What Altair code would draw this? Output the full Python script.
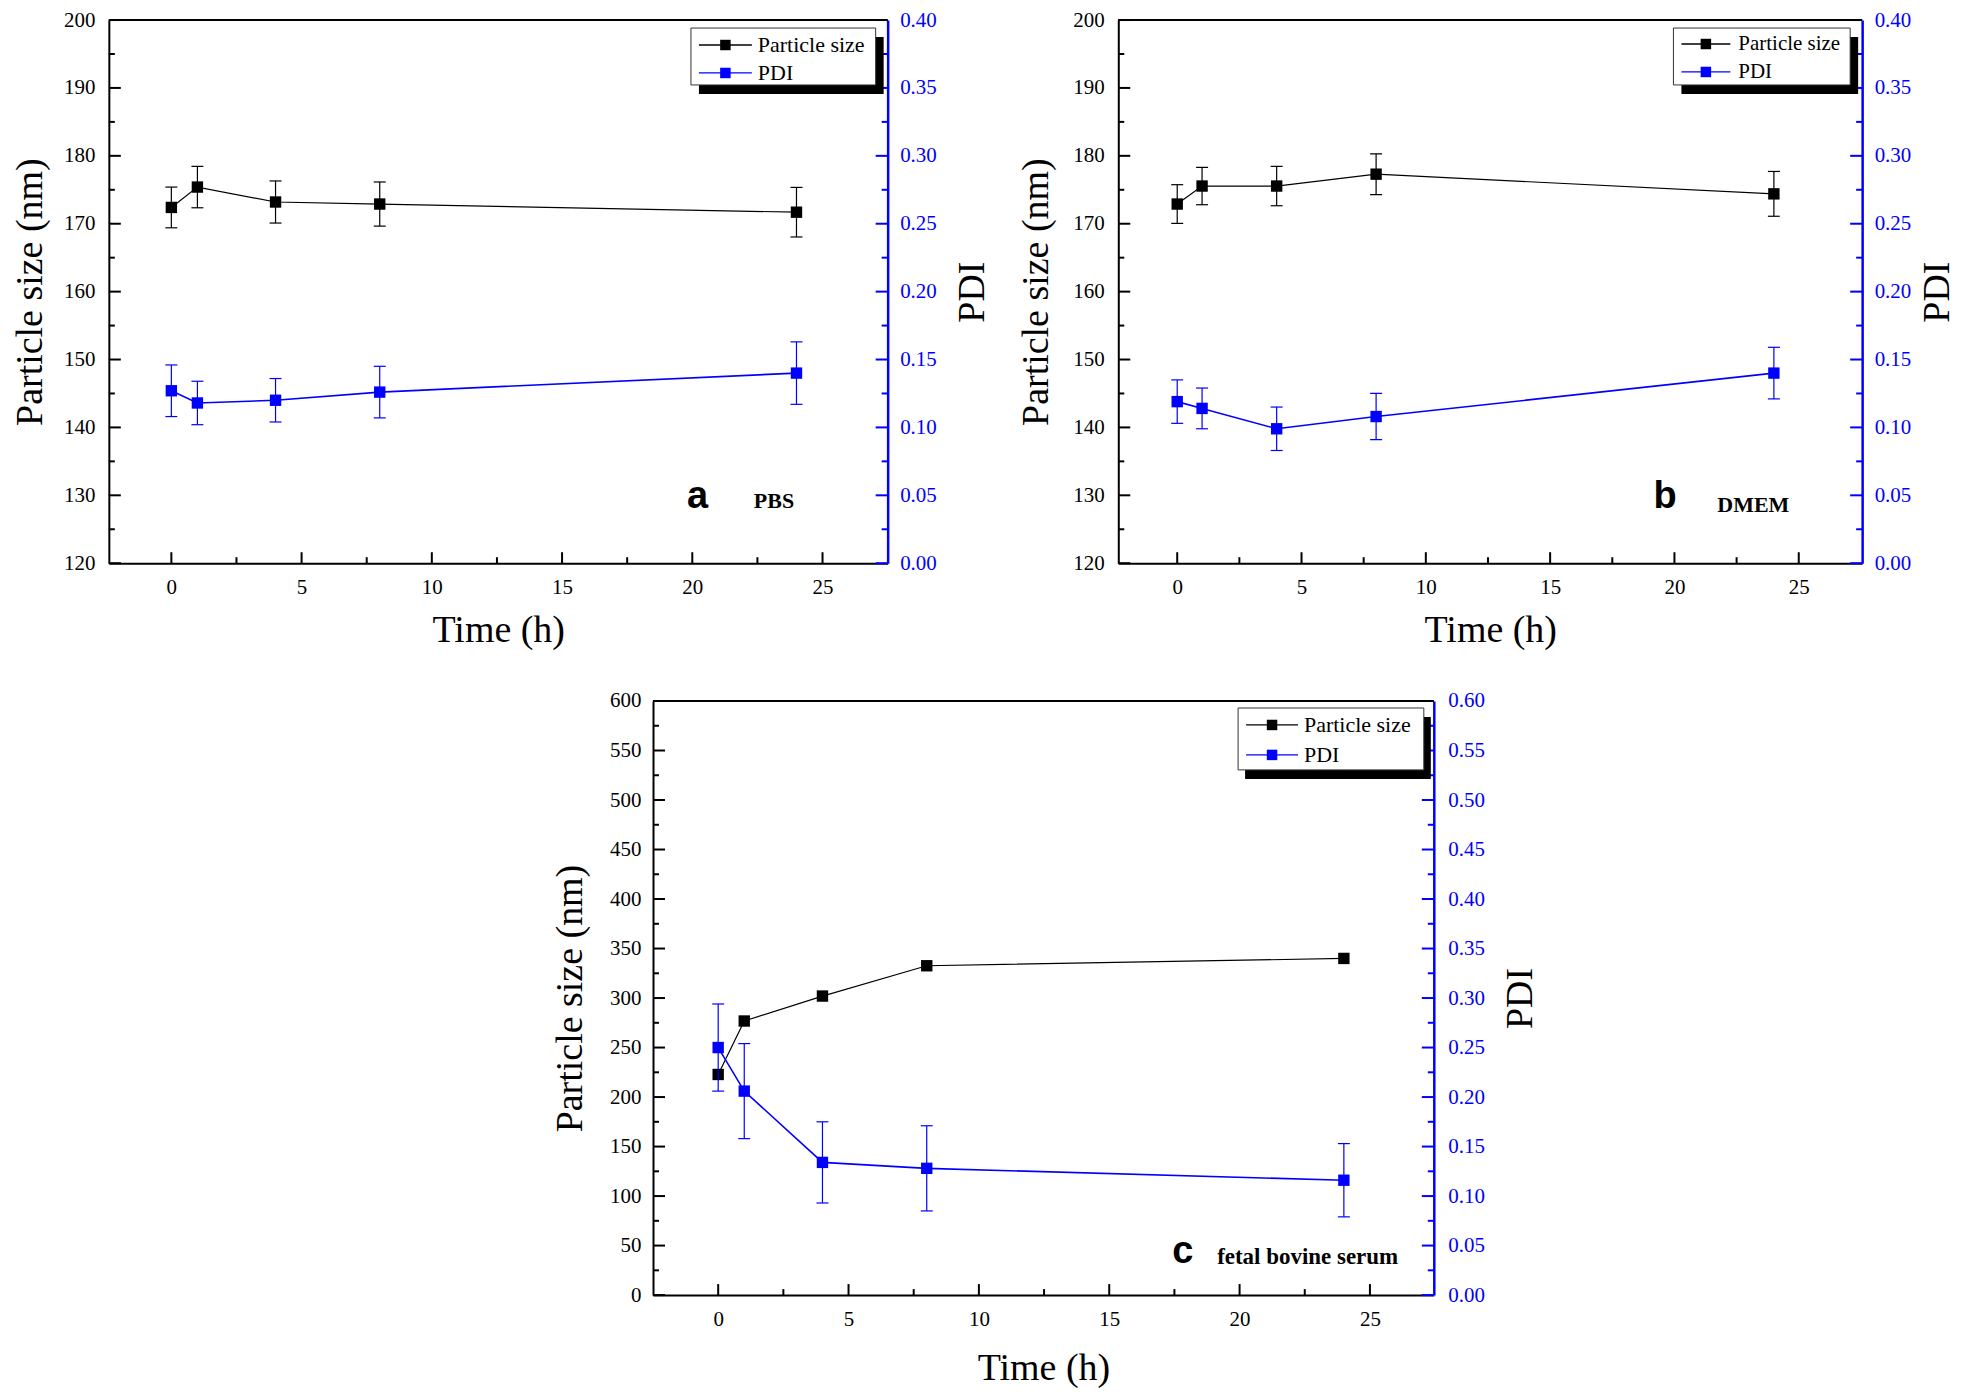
import altair as alt
import pandas as pd

# ---------------- data ----------------
time_h = [0, 1, 4, 8, 24]
x_major = [0, 5, 10, 15, 20, 25]
x_minor = [2.5, 7.5, 12.5, 17.5, 22.5]
legend_labels = ["Particle size", "PDI"]

size_a = [172.4, 175.4, 173.2, 172.9, 171.7]
size_a_err = [3.0, 3.05, 3.1, 3.25, 3.65]
pdi_a = [0.127, 0.118, 0.120, 0.126, 0.140]
pdi_a_err = [0.019, 0.016, 0.016, 0.019, 0.023]

size_b = [172.9, 175.55, 175.55, 177.3, 174.4]
size_b_err = [2.85, 2.75, 2.9, 3.0, 3.3]
pdi_b = [0.119, 0.114, 0.099, 0.108, 0.140]
pdi_b_err = [0.016, 0.015, 0.016, 0.017, 0.019]

size_c = [222.8, 276.8, 302.0, 332.6, 340.0]
pdi_c = [0.250, 0.206, 0.134, 0.128, 0.116]
pdi_c_err = [0.044, 0.048, 0.041, 0.043, 0.037]

yticks_ab = [120, 130, 140, 150, 160, 170, 180, 190, 200]
yminor_ab = [125, 135, 145, 155, 165, 175, 185, 195]
pticks_ab = [0.0, 0.05, 0.10, 0.15, 0.20, 0.25, 0.30, 0.35, 0.40]
pminor_ab = [0.025, 0.075, 0.125, 0.175, 0.225, 0.275, 0.325, 0.375]

yticks_c = [0, 50, 100, 150, 200, 250, 300, 350, 400, 450, 500, 550, 600]
yminor_c = [25, 75, 125, 175, 225, 275, 325, 375, 425, 475, 525, 575]
pticks_c = [0.0, 0.05, 0.10, 0.15, 0.20, 0.25, 0.30, 0.35, 0.40, 0.45, 0.50, 0.55, 0.60]
pminor_c = [0.025, 0.075, 0.125, 0.175, 0.225, 0.275, 0.325, 0.375, 0.425, 0.475, 0.525, 0.575]

SERIF = "Liberation Serif"
SANS = "Liberation Sans"
BLUE = "#0000FF"
BLACK = "#000000"
LABEL_FS = 21
TITLE_FS = 38


def one_row():
    return pd.DataFrame({"d": [0]})


def vchart():
    return alt.Chart(one_row())


def panel(p):
    W, H = p["W"], p["H"]
    xs = alt.Scale(domain=p["xdom"], nice=False, zero=False)
    ys = alt.Scale(domain=p["ydom"], nice=False, zero=False)
    ps = alt.Scale(domain=p["pdom"], nice=False, zero=False)

    common = dict(ticks=False, grid=False, labelFont=SERIF, labelFontSize=LABEL_FS,
                  titleFont=SERIF, titleFontSize=TITLE_FS, titleFontWeight="normal",
                  labelOverlap=False)
    x_axis = alt.Axis(values=x_major, format="d", title="Time (h)",
                      labelPadding=p["xlp"], titlePadding=p["xtp"],
                      domainColor=BLACK, domainWidth=2,
                      labelColor=BLACK, titleColor=BLACK, **common)
    y_axis = alt.Axis(orient="left", values=p["yticks"], format="d",
                      title="Particle size (nm)", labelPadding=p["ylp"],
                      titlePadding=p["ytp"],
                      domainColor=BLACK, domainWidth=2, labelColor=BLACK,
                      titleColor=BLACK, **common)
    p_axis = alt.Axis(orient="right", values=p["pticks"], format=".2f",
                      title="PDI", titleAngle=270, titleBaseline="top",
                      labelPadding=p["plp"], titlePadding=p["ptp"],
                      domainColor=BLUE, domainWidth=2.5,
                      labelColor=BLUE, titleColor=BLACK, **common)

    def X(f="t:Q"):
        return alt.X(f, scale=xs, axis=x_axis)

    def Y(f):
        return alt.Y(f, scale=ys, axis=y_axis)

    def P(f):
        return alt.Y(f, scale=ps, axis=p_axis)

    # ---- particle size group (left axis) ----
    sdf = pd.DataFrame({"t": time_h, "v": p["size"]})
    size_layers = [
        alt.Chart(sdf).mark_line(color=BLACK, strokeWidth=1.2).encode(x=X(), y=Y("v:Q")),
    ]
    if p["size_err"] is not None:
        edf = pd.DataFrame({"t": time_h,
                            "lo": [v - e for v, e in zip(p["size"], p["size_err"])],
                            "hi": [v + e for v, e in zip(p["size"], p["size_err"])]})
        size_layers += [
            alt.Chart(edf).mark_rule(color=BLACK, strokeWidth=1.2).encode(
                x=X(), y=Y("lo:Q"), y2="hi:Q"),
            alt.Chart(edf).mark_tick(color=BLACK, orient="horizontal", size=12,
                                     thickness=1.2, opacity=1).encode(x=X(), y=Y("lo:Q")),
            alt.Chart(edf).mark_tick(color=BLACK, orient="horizontal", size=12,
                                     thickness=1.2, opacity=1).encode(x=X(), y=Y("hi:Q")),
        ]
    size_layers += [
        alt.Chart(sdf).mark_square(color=BLACK, size=130, opacity=1).encode(x=X(), y=Y("v:Q")),
        # inward ticks, left axis
        alt.Chart(pd.DataFrame({"v": p["yticks"]})).mark_rule(color=BLACK, strokeWidth=2).encode(
            y=Y("v:Q"), x=alt.value(0), x2=alt.value(12)),
        alt.Chart(pd.DataFrame({"v": p["yminor"]})).mark_rule(color=BLACK, strokeWidth=2).encode(
            y=Y("v:Q"), x=alt.value(0), x2=alt.value(6)),
        # inward ticks, bottom axis
        alt.Chart(pd.DataFrame({"t": x_major})).mark_rule(color=BLACK, strokeWidth=2).encode(
            x=X(), y=alt.value(H), y2=alt.value(H - 11)),
        alt.Chart(pd.DataFrame({"t": x_minor})).mark_rule(color=BLACK, strokeWidth=2).encode(
            x=X(), y=alt.value(H), y2=alt.value(H - 6)),
    ]
    size_group = alt.layer(*size_layers)

    # ---- PDI group (right axis) ----
    pdf = pd.DataFrame({"t": time_h, "v": p["pdi"],
                        "lo": [v - e for v, e in zip(p["pdi"], p["pdi_err"])],
                        "hi": [v + e for v, e in zip(p["pdi"], p["pdi_err"])]})
    pdi_layers = [
        alt.Chart(pdf).mark_line(color=BLUE, strokeWidth=1.6).encode(x=X(), y=P("v:Q")),
        alt.Chart(pdf).mark_rule(color=BLUE, strokeWidth=1.2).encode(
            x=X(), y=P("lo:Q"), y2="hi:Q"),
        alt.Chart(pdf).mark_tick(color=BLUE, orient="horizontal", size=12,
                                 thickness=1.2, opacity=1).encode(x=X(), y=P("lo:Q")),
        alt.Chart(pdf).mark_tick(color=BLUE, orient="horizontal", size=12,
                                 thickness=1.2, opacity=1).encode(x=X(), y=P("hi:Q")),
        alt.Chart(pdf).mark_square(color=BLUE, size=130, opacity=1).encode(x=X(), y=P("v:Q")),
        alt.Chart(pd.DataFrame({"v": p["pticks"]})).mark_rule(color=BLUE, strokeWidth=2).encode(
            y=P("v:Q"), x=alt.value(W), x2=alt.value(W - 12)),
        alt.Chart(pd.DataFrame({"v": p["pminor"]})).mark_rule(color=BLUE, strokeWidth=2).encode(
            y=P("v:Q"), x=alt.value(W), x2=alt.value(W - 6)),
    ]
    pdi_group = alt.layer(*pdi_layers)

    # ---- decorations: top frame, annotation, legend ----
    lg = p["legend"]
    x0, y0, lw, lh = lg["x0"], lg["y0"], lg["w"], lg["h"]
    deco = [
        vchart().mark_rule(color=BLACK, strokeWidth=2).encode(
            x=alt.value(0), x2=alt.value(W), y=alt.value(0)),
        vchart().mark_text(font=SANS, fontWeight="bold", fontSize=38, align="left",
                           baseline="alphabetic", color=BLACK).encode(
            x=alt.value(p["letter_x"]), y=alt.value(H - p["letter_b"]),
            text=alt.value(p["letter"])),
        vchart().mark_text(font=SERIF, fontWeight="bold", fontSize=p["med_fs"], align="left",
                           baseline="alphabetic", color=BLACK).encode(
            x=alt.value(p["med_x"]), y=alt.value(H - p["med_b"]),
            text=alt.value(p["medium"])),
        vchart().mark_rect(color=BLACK).encode(
            x=alt.value(x0 + lg["dx"]), x2=alt.value(min(x0 + lw + lg["dx"], W)),
            y=alt.value(y0 + lg["dy"]), y2=alt.value(y0 + lh + lg["dy"])),
        vchart().mark_rect(fill="white", stroke="#333333", strokeWidth=1).encode(
            x=alt.value(x0), x2=alt.value(x0 + lw),
            y=alt.value(y0), y2=alt.value(y0 + lh)),
    ]
    for label, color, ry in zip(legend_labels, [BLACK, BLUE], lg["rows"]):
        deco += [
            vchart().mark_rule(color=color, strokeWidth=1.3).encode(
                x=alt.value(x0 + 8), x2=alt.value(x0 + lg["sym_end"]), y=alt.value(y0 + ry)),
            vchart().mark_square(color=color, size=110, opacity=1).encode(
                x=alt.value(x0 + (8 + lg["sym_end"]) / 2), y=alt.value(y0 + ry)),
            vchart().mark_text(font=SERIF, fontSize=lg["fs"], align="left",
                               baseline="middle", color=BLACK).encode(
                x=alt.value(x0 + lg["tx"]), y=alt.value(y0 + ry), text=alt.value(label)),
        ]
    deco_group = alt.layer(*deco)

    return alt.layer(size_group, pdi_group, deco_group).resolve_scale(
        y="independent").properties(width=W, height=H)


pa = panel(dict(W=780, H=544, xdom=[-2.4, 27.5], ydom=[120, 200], pdom=[0, 0.4],
                yticks=yticks_ab, yminor=yminor_ab, pticks=pticks_ab, pminor=pminor_ab,
                size=size_a, size_err=size_a_err, pdi=pdi_a, pdi_err=pdi_a_err,
                xlp=13, xtp=14, ylp=14, ytp=14, plp=12, ptp=17,
                letter="a", letter_x=579, letter_b=55, medium="PBS", med_x=646, med_b=55, med_fs=22,
                legend=dict(x0=583, y0=8, w=185, h=57, dx=8, dy=9, rows=[17, 45],
                            sym_end=61, tx=67, fs=22)))

pb = panel(dict(W=745, H=544, xdom=[-2.37, 27.55], ydom=[120, 200], pdom=[0, 0.4],
                yticks=yticks_ab, yminor=yminor_ab, pticks=pticks_ab, pminor=pminor_ab,
                size=size_b, size_err=size_b_err, pdi=pdi_b, pdi_err=pdi_b_err,
                xlp=13, xtp=14, ylp=14, ytp=17, plp=12, ptp=8,
                letter="b", letter_x=536, letter_b=55, medium="DMEM", med_x=600, med_b=51, med_fs=22,
                legend=dict(x0=556, y0=8, w=177, h=57, dx=8, dy=9, rows=[16, 44],
                            sym_end=57, tx=65, fs=21)))

pc = panel(dict(W=782, H=595, xdom=[-2.5, 27.45], ydom=[0, 600], pdom=[0, 0.6],
                yticks=yticks_c, yminor=yminor_c, pticks=pticks_c, pminor=pminor_c,
                size=size_c, size_err=None, pdi=pdi_c, pdi_err=pdi_c_err,
                xlp=13, xtp=21, ylp=12, ytp=20, plp=14, ptp=17,
                letter="c", letter_x=520, letter_b=32, medium="fetal bovine serum", med_x=565,
                med_b=31, med_fs=23,
                legend=dict(x0=586, y0=7, w=186, h=62, dx=7, dy=9, rows=[17, 47],
                            sym_end=60, tx=66, fs=22)))

spacer = alt.Chart(one_row()).mark_point(opacity=0).encode(
    x=alt.X("d:Q", axis=None), y=alt.Y("d:Q", axis=None)).properties(width=443, height=10)

top = alt.hconcat(pa, pb, spacing=26)
bottom = alt.hconcat(spacer, pc, spacing=0)

chart = alt.vconcat(top, bottom, spacing=41).properties(
    padding={"left": 3, "top": 0, "right": 0, "bottom": 0}, background="white"
).configure_view(strokeWidth=0).configure_axis(
    labelFont=SERIF, labelFontSize=LABEL_FS, titleFont=SERIF, titleFontSize=TITLE_FS,
    titleFontWeight="normal", labelOverlap=False
).configure_concat(spacing=0)

chart.save("out.html", embed_options={"renderer": "svg", "actions": False})
